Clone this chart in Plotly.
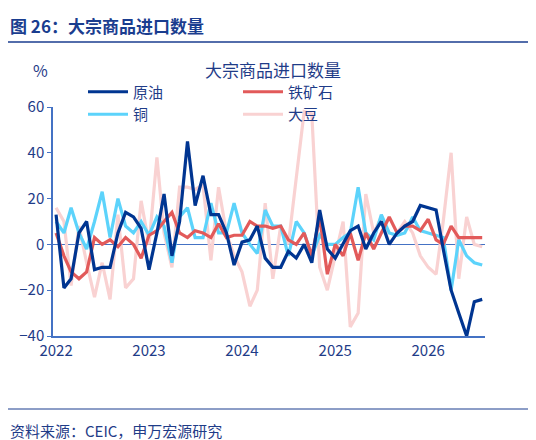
import plotly.graph_objects as go
import pandas as pd

dates = pd.date_range("2022-01-01", periods=56, freq="MS")
crude = [13,-19,-15,5,10,-11,-10,-10,5,14,12,7,
         -11,5,22,-5,10,45,17,30,13,13,5,-9,
         1,2,8,-6,-10,-10,-3,-6,0,-8,15,-2,
         -6,0,6,8,-2,5,10,0,5,8,10,17,
         16,15,-2,-20,-30,-40,-25,-24]
iron = [5,-5,-12,-15,-12,3,0,2,-1,3,0,-6,
        4,6,10,14,5,3,6,5,3,9,3,4,
        4,10,8,8,7,8,2,0,5,-5,12,-13,
        0,-5,5,-7,5,-2,5,12,5,8,8,6,
        11,2,0,8,3,3,3,3]
copper = [10,5,16,5,-2,10,23,3,20,8,5,10,
          4,12,8,-8,12,16,3,3,18,5,5,18,
          5,0,-4,15,8,8,-5,10,5,-5,4,0,
          0,3,5,25,5,2,13,5,4,5,12,6,
          5,4,3,-20,2,-5,-8,-9]
soy = [16,10,-18,8,-8,-23,-8,-24,13,-19,-15,19,
       0,38,5,-10,25,25,24,26,-7,25,5,-5,
       -12,-27,-20,18,-15,8,0,30,58,57,-10,-20,
       -5,10,-36,-30,22,5,12,0,5,10,5,-5,
       -10,-13,10,40,-15,12,0,-1]
names = ["原油", "铁矿石", "铜", "大豆"]
colors = ["#003591", "#e25a5a", "#5cd3fb", "#f9d2d2"]
series = [crude, iron, copper, soy]

tc = "#1f3c88"
fig = go.Figure()
for n, c, s in reversed(list(zip(names, colors, series))):
    fig.add_trace(go.Scatter(x=dates, y=s, name=n, mode="lines",
                             line=dict(color=c, width=3.2)))

PW, PH = 432, 229
fig.update_layout(
    width=536, height=440, plot_bgcolor="white", paper_bgcolor="white",
    margin=dict(l=45, r=59, t=99, b=112, autoexpand=False),
    font=dict(family="Noto Sans CJK SC, Arial", color=tc, size=15),
    showlegend=True,
    legend=dict(orientation="h", x=(75-45)/PW, xanchor="left", y=1 + (99-95)/PH, yanchor="middle",
                traceorder="reversed", font=dict(size=15, color=tc),
                itemwidth=40, entrywidth=100, entrywidthmode="pixels",
                bgcolor="rgba(0,0,0,0)", tracegroupgap=0),
    xaxis=dict(range=[pd.Timestamp("2021-12-20"), pd.Timestamp("2026-08-12")],
               tickvals=[pd.Timestamp(f"{y}-01-01") for y in range(2022, 2027)],
               ticktext=[str(y) for y in range(2022, 2027)], automargin=False,
               showline=True, linecolor="#4472c4", linewidth=1.5, showgrid=False,
               zeroline=False, ticks="", tickfont=dict(size=15, color=tc)),
    yaxis=dict(range=[-40, 60], dtick=20, showline=True, linecolor="#4472c4", linewidth=1.5,
               showgrid=False, zeroline=True, zerolinecolor="#4472c4", zerolinewidth=1.2,
               ticks="outside", ticklen=4, tickcolor="#4472c4", automargin=False,
               tickfont=dict(size=15, color=tc)),
)
fig.add_annotation(text="<b>图 26：大宗商品进口数量</b>", xref="paper", yref="paper",
                   x=-45/PW, y=1 + (99-18)/PH, xanchor="left", yanchor="middle",
                   showarrow=False, font=dict(size=17, color="#1a3d8f"))
fig.add_annotation(text="大宗商品进口数量", xref="paper", yref="paper",
                   x=(265-45)/PW, y=1 + (99-62)/PH, xanchor="center", yanchor="middle",
                   showarrow=False, font=dict(size=17, color=tc))
fig.add_annotation(text="%", xref="paper", yref="paper",
                   x=-13/PW, y=1 + (99-62)/PH, xanchor="center", yanchor="middle",
                   showarrow=False, font=dict(size=16, color=tc))
fig.add_annotation(text="资料来源：CEIC，申万宏源研究", xref="paper", yref="paper",
                   x=-45/PW, y=-(422-328)/PH, xanchor="left", yanchor="middle",
                   showarrow=False, font=dict(size=15, color=tc))
fig.add_shape(type="line", xref="paper", yref="paper", x0=-45/PW, x1=1+59/PW,
              y0=1 + (99-34)/PH, y1=1 + (99-34)/PH, line=dict(color="#1a3d8f", width=1.5))
fig.add_shape(type="line", xref="paper", yref="paper", x0=-45/PW, x1=1+59/PW,
              y0=-(401-328)/PH, y1=-(401-328)/PH, line=dict(color="#1a3d8f", width=1))
fig.write_html("out.html")
